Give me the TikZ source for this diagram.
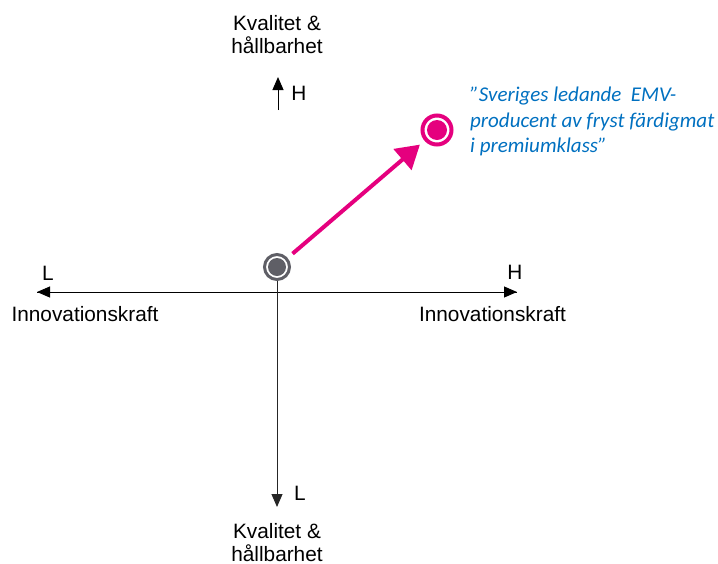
\documentclass[tikz,border=0pt]{standalone}
\usepackage{fontspec}
\setmainfont{Liberation Sans}
\newfontfamily\calfont{Carlito}
\usetikzlibrary{arrows.meta}
\definecolor{cpink}{HTML}{E5007E}
\definecolor{cgray}{HTML}{5F5F66}
\definecolor{cblue}{HTML}{0070C0}
\begin{document}
\begin{tikzpicture}[x=1pt,y=-1pt,
  lbl/.style={inner sep=0pt, font=\fontsize{20.8}{23}\selectfont},
  axis/.style={line width=1pt, -{Triangle[length=13pt,width=11pt]}},
  ringnode/.style={circle, draw=#1, line width=3pt, minimum size=25pt, inner sep=0pt},
  dotnode/.style={circle, fill=#1, minimum size=18pt, inner sep=0pt},
  quote/.style={inner sep=0pt, align=left, anchor=north west, text=cblue,
    font=\calfont\itshape\fontsize{21}{25.5}\selectfont},
  pinkarrow/.style={draw=cpink, line width=4pt, -{Triangle[length=23pt,width=27pt]},
    shorten <=6.5pt, shorten >=6pt}]
\useasboundingbox (0,0) rectangle (718,563);
% axes coordinates
\coordinate (left) at (37,292);
\coordinate (right) at (517,292);
\coordinate (topbase) at (278,110);
\coordinate (toptip) at (278,77);
\coordinate (bottom) at (277,507);
% circles
\node[ringnode=cgray] (c) at (277,267) {};
\node[dotnode=cgray] (cdot) at (c) {};
\node[circle, draw=cpink, line width=4pt, minimum size=29pt, inner sep=0pt] (p) at (437,130) {};
\node[dotnode=cpink, minimum size=20pt] (pdot) at (p) {};
% axes
\draw[axis] (right) -- (left);
\draw[axis] (left) -- (right);
\draw[axis] (topbase) -- (toptip);
\draw[axis, draw=black!85] (c.south) -- (bottom);
% pink arrow
\draw[pinkarrow] (c) -- (p);
% labels
\node[lbl, anchor=north, align=center] (ktop) at (277,15) {Kvalitet \&\\hållbarhet};
\node[lbl, anchor=base] (htop) at (299,100) {H};
\node[lbl, anchor=base] (lleft) at (48,280) {L};
\node[lbl, anchor=base] (ileft) at (85,321) {Innovationskraft};
\node[lbl, anchor=base] (hright) at (515,279) {H};
\node[lbl, anchor=base] (iright) at (492.5,321) {Innovationskraft};
\node[lbl, anchor=base] (lbot) at (300,500) {L};
\node[lbl, anchor=north, align=center] (kbot) at (277,523) {Kvalitet \&\\hållbarhet};
\node[quote] (q) at (470,87) {”Sveriges ledande\ \ EMV-\\producent av fryst färdigmat\\i premiumklass”};
\end{tikzpicture}
\end{document}
